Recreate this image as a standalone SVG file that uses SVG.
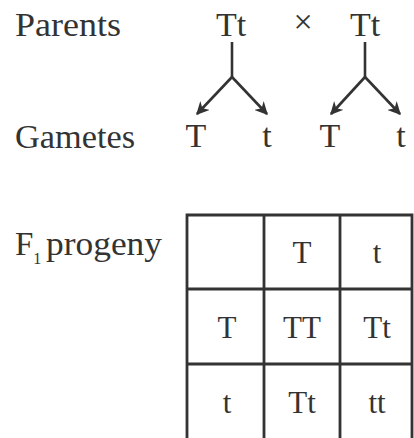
<svg xmlns="http://www.w3.org/2000/svg" width="414" height="438" viewBox="0 0 414 438">
<style>
text{font-family:"Liberation Serif","DejaVu Serif",serif;fill:#333;}
.lbl{font-size:33px;}
.g{font-size:34px;text-anchor:middle;}
.c{font-size:31px;text-anchor:middle;}
.ln{stroke:#333;stroke-width:2.6;fill:none;}
.grid{stroke:#333;stroke-width:2.8;fill:none;}
</style>
<defs>
<marker id="ah" viewBox="0 0 10 10" refX="9" refY="5" markerWidth="5" markerHeight="5" orient="auto" markerUnits="strokeWidth">
<path d="M0,0 L10,5 L0,10 L3,5 Z" fill="#333"/>
</marker>
</defs>
<rect width="414" height="438" fill="#fff"/>
<g id="labels">
<text class="lbl" x="15" y="36" textLength="106" lengthAdjust="spacingAndGlyphs">Parents</text>
<text class="lbl" x="15" y="148" textLength="120" lengthAdjust="spacingAndGlyphs">Gametes</text>
<text class="lbl" x="15" y="255">F<tspan font-size="16" dy="9">1</tspan><tspan dy="-9" x="46" textLength="116" lengthAdjust="spacingAndGlyphs">progeny</tspan></text>
</g>
<g id="parent1"><text class="g" x="231" y="36">Tt</text></g>
<g id="cross"><text class="g" x="303" y="33" font-size="24">×</text></g>
<g id="parent2"><text class="g" x="365" y="36">Tt</text></g>
<g id="gamete1"><text class="g" x="196" y="147">T</text></g>
<g id="gamete2"><text class="g" x="267" y="147">t</text></g>
<g id="gamete3"><text class="g" x="330" y="147">T</text></g>
<g id="gamete4"><text class="g" x="401" y="147">t</text></g>
<g id="connectors">
<path class="ln" d="M232,42 V77"/>
<path class="ln" d="M232,77 L197,114" marker-end="url(#ah)"/>
<path class="ln" d="M232,77 L267,114" marker-end="url(#ah)"/>
<path class="ln" d="M365,42 V77"/>
<path class="ln" d="M365,77 L331,114" marker-end="url(#ah)"/>
<path class="ln" d="M365,77 L400,114" marker-end="url(#ah)"/>
</g>
<g id="punnett">
<path class="grid" d="M187,438 V215 H412 V438 M264,215 V438 M340,215 V438 M187,289 H412 M187,364 H412"/>
<text class="c" x="302" y="263">T</text>
<text class="c" x="377" y="263">t</text>
<text class="c" x="227" y="338">T</text>
<text class="c" x="302" y="338">TT</text>
<text class="c" x="377" y="338">Tt</text>
<text class="c" x="227" y="413">t</text>
<text class="c" x="302" y="413">Tt</text>
<text class="c" x="377" y="413">tt</text>
</g>
</svg>
